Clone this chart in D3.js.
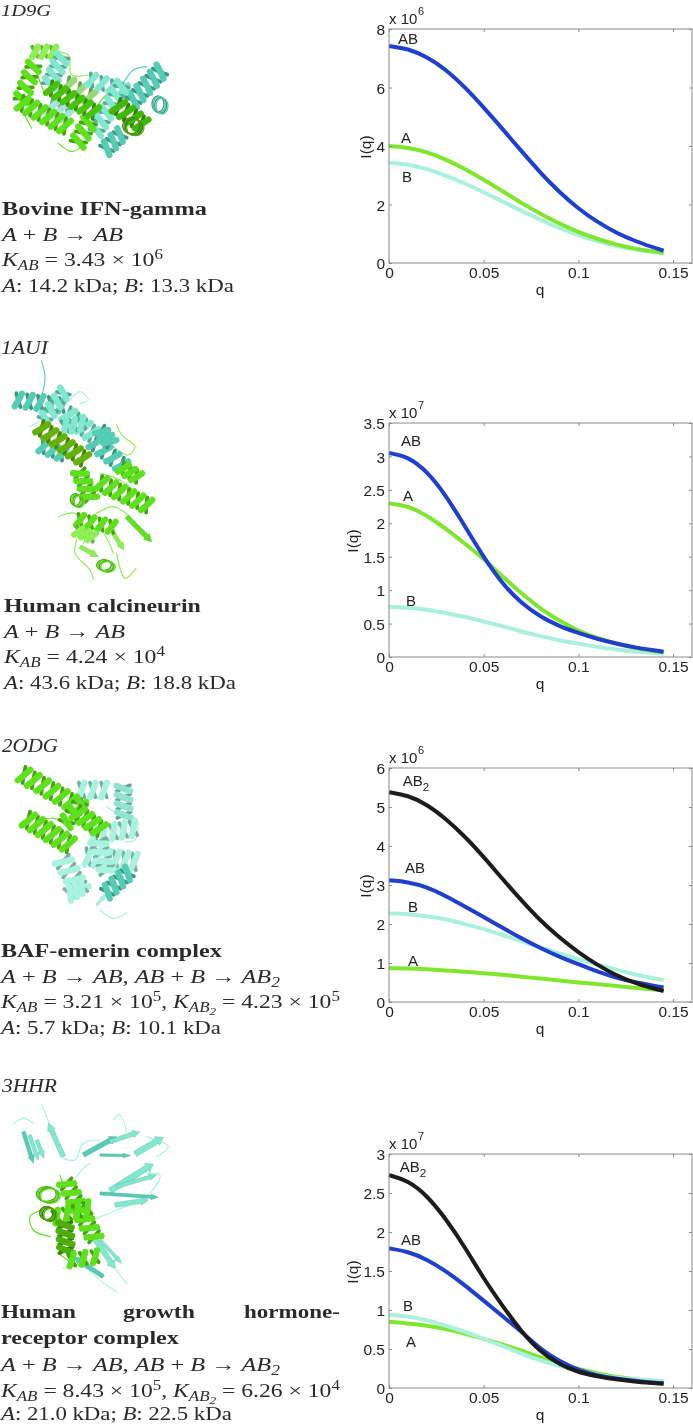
<!DOCTYPE html>
<html><head><meta charset="utf-8">
<script src="https://cdnjs.cloudflare.com/ajax/libs/d3/7.8.5/d3.min.js"></script>
<style>html,body{margin:0;padding:0;background:#fff}svg{display:block;filter:blur(0.4px)}</style>
</head><body><svg id="c" width="693" height="1425"></svg>
<script>
// ---------- data ----------
const qValues=[0,.01,.02,.03,.04,.05,.06,.07,.08,.09,.1,.11,.12,.13,.145];
const p1A=[4.0,3.95,3.8,3.55,3.22,2.85,2.45,2.05,1.68,1.34,1.06,.82,.63,.48,.35];
const p1B=[3.43,3.38,3.22,3.0,2.72,2.42,2.1,1.78,1.47,1.19,.95,.74,.58,.45,.32];
const p1AB=[7.42,7.33,7.05,6.62,6.02,5.32,4.58,3.82,3.08,2.42,1.85,1.4,1.03,.74,.42];
const p2A=[2.3,2.26,2.12,1.92,1.7,1.47,1.2,.95,.72,.54,.39,.28,.2,.13,.07];
const p2B=[.75,.74,.71,.66,.6,.53,.46,.38,.31,.25,.2,.15,.11,.08,.05];
const p2AB=[3.05,3.0,2.78,2.42,1.96,1.49,1.09,.8,.6,.46,.36,.27,.2,.14,.08];
const p3A=[.87,.86,.84,.81,.78,.74,.7,.65,.6,.55,.5,.46,.41,.36,.3];
const p3B=[2.27,2.26,2.2,2.12,2.0,1.87,1.72,1.56,1.4,1.24,1.1,.96,.83,.7,.56];
const p3AB=[3.12,3.08,2.95,2.72,2.45,2.18,1.9,1.63,1.38,1.16,.97,.78,.62,.5,.37];
const p3AB2=[5.38,5.3,5.07,4.7,4.25,3.72,3.15,2.6,2.08,1.65,1.27,.95,.68,.48,.28];
const p4A=[.85,.83,.8,.76,.7,.63,.56,.48,.39,.31,.24,.19,.14,.11,.08];
const p4B=[.94,.92,.87,.8,.72,.63,.54,.44,.35,.28,.22,.17,.13,.11,.09];
const p4AB=[1.79,1.75,1.65,1.5,1.32,1.12,.92,.72,.5,.34,.23,.16,.12,.09,.06];
const p4AB2=[2.73,2.66,2.47,2.17,1.81,1.4,1.05,.72,.46,.3,.2,.15,.11,.08,.055];
const xTicks=[0,.05,.1,.15];
const xTickLabels=["0","0.05","0.1","0.15"];
const p1Ticks=[0,2,4,6,8];
const p2Ticks=[0,.5,1,1.5,2,2.5,3,3.5];
const p3Ticks=[0,1,2,3,4,5,6];
const p4Ticks=[0,.5,1,1.5,2,2.5,3];

// ---------- layout ----------
const C={A:"#7fe62e",B:"#a9f0dd",AB:"#1f3fce",AB2:"#1c1c1c"};
const panels=[
 {top:29,max:8,ticks:p1Ticks,exp:"6",ylab:371,series:[["B",p1B],["A",p1A],["AB",p1AB]],
  labels:[["AB",408,44],["A",406,143],["B",407,182]]},
 {top:423,max:3.5,ticks:p2Ticks,exp:"7",ylab:358,series:[["B",p2B],["A",p2A],["AB",p2AB]],
  labels:[["AB",411,446],["A",408,501],["B",411,606]]},
 {top:768,max:6,ticks:p3Ticks,exp:"6",ylab:371,series:[["A",p3A],["B",p3B],["AB",p3AB],["AB2",p3AB2]],
  labels:[["AB2",416,786],["AB",415,873],["B",413,912],["A",413,966]]},
 {top:1154,max:3,ticks:p4Ticks,exp:"7",ylab:358,series:[["A",p4A],["B",p4B],["AB",p4AB],["AB2",p4AB2]],
  labels:[["AB2",413,1172],["AB",411,1245],["B",408,1311],["A",411,1347]]}
];
const svg=d3.select("#c");
const sans="'Liberation Sans',Arial,sans-serif", serif="'Liberation Serif',serif";
const L=389,R=692,H=234;
const x=d3.scaleLinear().domain([0,.16]).range([L,R]);
const lineGen=y=>d3.line().x((d,i)=>x(qValues[i])).y(d=>y(d)).curve(d3.curveBasis);

panels.forEach(p=>{
 const y=d3.scaleLinear().domain([0,p.max]).range([p.top+H,p.top]);
 const g=svg.append("g");
 p.series.forEach(([k,v])=>g.append("path").attr("d",lineGen(y)(v)).attr("fill","none")
   .attr("stroke",C[k]).attr("stroke-width",4));
 g.append("rect").attr("x",L).attr("y",p.top).attr("width",R-L).attr("height",H)
   .attr("fill","none").attr("stroke","#8a8a8a").attr("stroke-width",1);
 const ax=(sel,gen)=>{sel.call(gen);sel.select(".domain").remove();sel.selectAll("line").attr("stroke","#8a8a8a");return sel;};
 ax(g.append("g").attr("transform",`translate(0,${p.top})`),d3.axisBottom(x).tickValues(xTicks).tickSize(3).tickFormat("")).selectAll("text").remove();
 const b=ax(g.append("g").attr("transform",`translate(0,${p.top+H})`),d3.axisTop(x).tickValues(xTicks).tickSize(3).tickFormat((d,i)=>xTickLabels[i]));
 b.selectAll("text").attr("y",15).attr("dy",0).attr("font-family",sans).attr("font-size",15.5).attr("fill","#222");
 const l=ax(g.append("g").attr("transform",`translate(${L},0)`),d3.axisRight(y).tickValues(p.ticks).tickSize(3).tickFormat(d=>d));
 l.selectAll("text").attr("x",-4).attr("dy","0.36em").attr("text-anchor","end").attr("font-family",sans).attr("font-size",15.5).attr("fill","#222");
 ax(g.append("g").attr("transform",`translate(${R},0)`),d3.axisLeft(y).tickValues(p.ticks).tickSize(3).tickFormat("")).selectAll("text").remove();
 const T=(t,xx,yy,fs=15.5,a="middle")=>g.append("text").text(t).attr("x",xx).attr("y",yy).attr("font-family",sans).attr("font-size",fs).attr("text-anchor",a).attr("fill","#222");
 T("q",540,p.top+H+32);
 T("I(q)",0,0).attr("transform",`translate(${p.ylab},${p.top+H/2+1}) rotate(-90)`);
 T("x 10",389,p.top-5.5,15,"start");
 T(p.exp,418,p.top-14,11,"start");
 p.labels.forEach(([t,xx,yy])=>{
  if(t==="AB2"){const e=T("AB",xx,yy,15);e.append("tspan").text("2").attr("font-size",11.5).attr("dy",5);}
  else T(t,xx,yy,15);
 });
});

// ---------- descriptive text ----------
const r=s=>[s,"r"],i=s=>[s,"i"],sb=s=>[s,"sub"],ss=s=>[s,"subsub"],su=s=>[s,"sup"],b=s=>[s,"b"];
const rxnAB=[i("A"),r(" + "),i("B"),r(" → "),i("AB")];
const rxn2=[...rxnAB,r(", "),i("AB"),r(" + "),i("B"),r(" → "),i("AB"),sb("2")];
const kLine=(k1,e1,k2,e2)=>{
 const a=[i("K"),sb("AB"),r(" = "+k1+" × 10"),su(e1)];
 return k2?[...a,r(", "),i("K"),sb("AB"),ss("2"),r(" = "+k2+" × 10"),su(e2)]:a;};
const masses=(a,c)=>[i("A"),r(": "+a+" kDa; "),i("B"),r(": "+c+" kDa")];
const textLines=[
 [[i("1D9G")],1,51,16,17],
 [[b("Bovine IFN-gamma")],2,207,215],[rxnAB,2,123,241],[kLine("3.43","6"),2,163,266],[masses("14.2","13.3"),2,234,292],
 [[i("1AUI")],1,48,354],
 [[b("Human calcineurin")],4,201,612],[rxnAB,4,125,638],[kLine("4.24","4"),4,165,663],[masses("43.6","18.8"),4,236,689],
 [[i("2ODG")],2,58,752],
 [[b("BAF-emerin complex")],1,222,957],[rxn2,1,280,983],[kLine("3.21","5","4.23","5"),1,340,1008],[masses("5.7","10.1"),1,221,1034],
 [[i("3HHR")],2,57,1092],
 [[b("Human")],1,76,1318],[[b("growth")],123,195,1318],[[b("hormone-")],244,340,1318],[[b("receptor complex")],1,179,1344],
 [rxn2,1,280,1371],[kLine("8.43","5","6.26","4"),1,340,1397],[masses("21.0","22.5"),1,232,1420]
];
textLines.forEach(([segs,x0,x1,base,fs=19.5])=>{
 const t=svg.append("text").attr("font-family",serif).attr("font-size",fs).attr("fill","#2a2a2a").style("white-space","pre");
 let off=0;
 segs.forEach(([s,k])=>{
  const dyMap={sub:4,subsub:7,sup:-7};
  const target=dyMap[k]||0;
  const ts=t.append("tspan").text(s).attr("dy",target-off);
  off=target;
  if(k==="i"||k==="sub"||k==="subsub")ts.attr("font-style","italic");
  if(k==="sub"||k==="sup")ts.attr("font-size",14);
  if(k==="subsub")ts.attr("font-size",11);
  if(k==="b")ts.attr("font-weight","bold");
 });
 const w=t.node().getComputedTextLength();
 t.attr("transform",`translate(${x0},${base}) scale(${(x1-x0)/w},1)`);
});

// ---------- protein ribbons (schematic) ----------
const GR="#5fe01c",DG="#4cae08",LG="#8cf052",CY="#7fe8cf",TL="#55cdb4",PC="#a8f3df";
const shade=c=>d3.color(c).darker(0.9).formatHex();
function helix(g,[x0,y0,x1,y1,c,w=34]){
 const dx=x1-x0,dy=y1-y0,len=Math.hypot(dx,dy),ux=dx/len,uy=dy/len,nx=-uy,ny=ux,pitch=30,n=Math.max(2,Math.round(len/pitch));
 const a=w/2,bw=pitch*0.42;
 const band=(t,s,col,wd)=>{ // one half turn across the axis
  const cx=x0+dx*t,cy=y0+dy*t;
  g.append("path").attr("d",`M${cx-ux*s+nx*a},${cy-uy*s+ny*a}Q${cx+nx*a*.2},${cy+ny*a*.2} ${cx+ux*s-nx*a},${cy+uy*s-ny*a}`)
   .attr("fill","none").attr("stroke",col).attr("stroke-width",wd).attr("stroke-linecap","round");
 };
 for(let k=0;k<=n;k++)band(k/n,-pitch*.28,shade(c),bw*.9);
 for(let k=0;k<=n;k++)band(k/n,pitch*.28,c,bw*1.5);
}
function coil(g,[cx,cy,rx,ry,c]){
 for(let k=0;k<4;k++)g.append("ellipse").attr("cx",cx+k*4-6).attr("cy",cy+k*2-3).attr("rx",rx).attr("ry",ry).attr("fill","none").attr("stroke",k%2?c:shade(c)).attr("stroke-width",4);
}
function strand(g,[x0,y0,x1,y1,c,w=14]){
 const dx=x1-x0,dy=y1-y0,l=Math.hypot(dx,dy),nx=-dy/l*w/2,ny=dx/l*w/2,hx=x1-dx/l*22,hy=y1-dy/l*22;
 g.append("path").attr("d",`M${x0+nx*.8},${y0+ny*.8}L${hx+nx*.8},${hy+ny*.8}L${hx+nx*1.4},${hy+ny*1.4}L${x1},${y1}L${hx-nx*1.4},${hy-ny*1.4}L${hx-nx*.8},${hy-ny*.8}L${x0-nx*.8},${y0-ny*.8}Z`)
  .attr("fill",c).attr("stroke",shade(c)).attr("stroke-width",1).attr("stroke-linejoin","round");
}
function loop(g,[c,...pts]){
 g.append("path").attr("d",d3.line().curve(d3.curveCatmullRom)(pts)).attr("fill","none").attr("stroke",c).attr("stroke-width",3.5).attr("stroke-linecap","round");
}
const proteins=[
 {oy:0,
  loops:[[GR,[70,340],[95,385]],[GR,[175,430],[215,455],[245,440]],[LG,[165,155],[205,165],[215,225],[265,225]],[TL,[370,250],[400,210],[440,200]],[GR,[290,320],[320,285],[345,290]],[GR,[110,220],[130,270]]],
  helices:[[105,155,160,155,LG,30],[185,175,150,250,CY,40],[205,255,270,290,"#96d97a",44],[275,240,370,270,CY,36],[400,300,480,215,TL,44],[155,320,200,345,"#a5e6d8",44],[365,260,290,390,CY,40],[320,445,360,405,TL,40],[100,200,65,295,GR,40],[68,310,195,378,GR,44],[235,425,265,370,GR,44],[155,265,280,335,"#49c20c",40],[355,320,425,372,"#3fb807",46]],
  coils:[[480,315,18,24,TL],[400,380,26,24,DG]],strands:[]},
 {oy:340,
  loops:[[TL,[125,65],[135,110],[130,150],[118,180]],[PC,[210,180],[240,155],[265,180],[240,190]],[LG,[350,255],[365,285],[405,320],[385,345],[340,320]],[LG,[175,530],[225,520],[250,560]],[LG,[230,600],[225,640],[270,690],[280,718]],[LG,[350,640],[375,715],[408,685]],[LG,[300,400],[360,420],[410,460]],[LG,[250,610],[300,570],[340,640]],[LG,[290,520],[340,500],[390,530]],[PC,[90,260],[115,245]]],
  helices:[[55,180,185,195,TL,40],[135,235,190,160,CY,36],[205,225,275,280,CY,46],[130,320,185,342,TL,36],[285,310,365,375,TL,42],[195,260,245,250,CY,36],[305,275,330,305,TL,36],[370,385,410,410,GR,34],[240,400,270,470,GR,38],[305,430,440,495,GR,42],[240,540,335,560,GR,34],[235,575,275,590,LG,26],[125,265,248,355,"#63b30a",42]],
  coils:[[232,482,15,18,GR],[318,678,22,16,GR]],
  strands:[[380,530,455,605,GR,18],[340,580,372,630,LG,16],[240,620,295,650,LG,16]]},
 {oy:720,
  loops:[[PC,[300,570],[340,595],[380,578]],[PC,[320,260],[370,290],[410,300],[405,360],[375,365]],[GR,[120,300],[165,295],[200,320]]],
  helices:[[245,210,312,210,PC,44],[370,205,372,285,"#8fe4cf",40],[190,425,240,505,PC,50],[265,410,402,425,PC,50],[210,520,245,500,PC,40],[280,345,400,325,PC,44],[295,370,320,450,PC,46],[322,515,382,460,TL,40],[72,165,240,262,GR,46],[85,300,205,372,GR,48],[200,305,240,250,GR,40],[235,280,298,326,GR,44]],
  coils:[],strands:[[290,555,320,520,PC,10]]},
 {oy:1060,
  loops:[[PC,[42,190],[70,175],[100,190]],[PC,[125,135],[140,170],[150,195]],[PC,[190,295],[225,300],[250,250],[300,240]],[PC,[340,180],[360,165],[380,215]],[PC,[440,230],[505,260],[470,290]],[PC,[440,340],[480,345],[450,400],[350,450],[290,475]],[PC,[230,350],[250,325],[270,310]],[PC,[340,620],[380,670]],[PC,[190,625],[240,615],[310,670],[350,695]],[GR,[180,345],[190,375]],[GR,[125,450],[90,470],[100,510],[150,530]],[GR,[175,580],[215,610]]],
  helices:[[200,372,282,530,GR,42],[170,470,262,445,GR,38],[195,495,198,570,DG,40],[215,600,285,590,GR,36]],
  coils:[[145,405,30,22,GR],[145,462,20,20,DG]],
  strands:[[70,215,100,310,TL,14],[88,225,115,300,CY,14],[110,240,132,295,CY,14],[190,290,145,190,CY,18],[250,285,350,230,TL,18],[300,285,392,287,TL,10],[330,245,420,215,CY,16],[405,282,490,232,CY,22],[330,392,460,312,CY,22],[350,380,470,345,CY,14],[300,400,475,412,TL,12],[345,435,445,420,CY,18],[280,530,345,625,CY,20],[300,540,365,610,CY,12],[310,650,220,590,TL,16]]}
];
proteins.forEach(p=>{
 const g=svg.append("g").attr("transform",`translate(0,${p.oy}) scale(${1/3})`);
 p.loops.forEach(l=>loop(g,l));
 p.strands.forEach(s=>strand(g,s));
 p.helices.forEach(h=>helix(g,h));
 p.coils.forEach(c=>coil(g,c));
});
</script></body></html>
